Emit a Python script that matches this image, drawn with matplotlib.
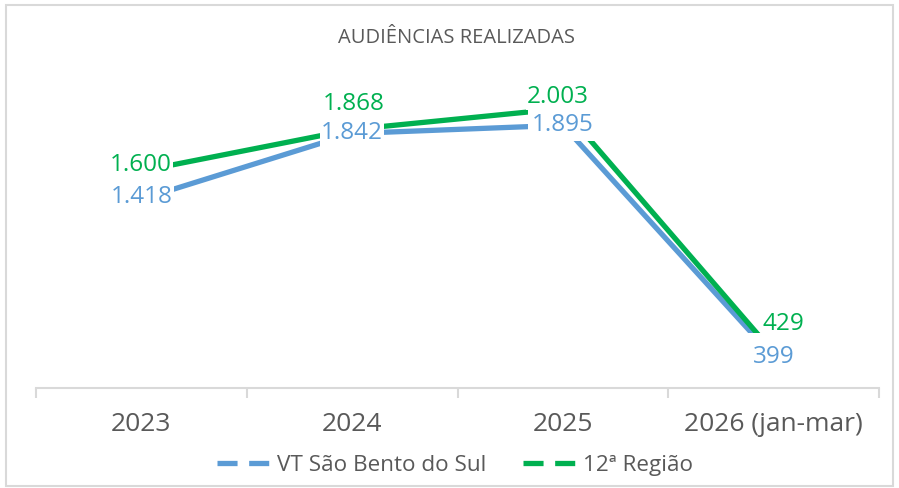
import matplotlib.pyplot as plt
from matplotlib.lines import Line2D
from matplotlib.patches import Rectangle

categories = ["2023", "2024", "2025", "2026 (jan-mar)"]
vt_values = [1418, 1842, 1895, 399]
regiao_values = [1600, 1868, 2003, 429]
vt_labels = ["1.418", "1.842", "1.895", "399"]
regiao_labels = ["1.600", "1.868", "2.003", "429"]

blue = "#5B9BD5"
green = "#00B050"
gray_txt = "#595959"
gray_line = "#D9D9D9"

plt.rcParams["font.family"] = ["Open Sans", "DejaVu Sans"]

fig = plt.figure(figsize=(8.99, 4.88), dpi=100)
ax = fig.add_axes([36 / 899, 100 / 488, 843 / 899, 325.5 / 488])

x = list(range(len(categories)))
ax.plot(x, vt_values, color=blue, lw=3.8, solid_capstyle="butt", zorder=2)
ax.plot(x, regiao_values, color=green, lw=3.8, solid_capstyle="butt", zorder=2)

ax.set_xlim(-0.5, 3.5)
ax.set_ylim(200, 2300)

# data labels, white box hides the line underneath like excel does
px = 0.72
vt_off = [(0, 2), (0, 0), (0, 0), (0, 0)]
reg_off = [(-1, 6), (2, 25), (-5, 12), (10, 29)]
vt_pad = [0.05, 0.05, 0.15, 0.5]
for i in x:
    ax.annotate(vt_labels[i], (i, vt_values[i]),
                xytext=(vt_off[i][0] * px, vt_off[i][1] * px), textcoords="offset points",
                ha="center", va="center", fontsize=17.5, color=blue, zorder=5,
                bbox=dict(boxstyle="square,pad=%s" % vt_pad[i], fc="white", ec="none"))
    ax.annotate(regiao_labels[i], (i, regiao_values[i]),
                xytext=(reg_off[i][0] * px, reg_off[i][1] * px), textcoords="offset points",
                ha="center", va="center", fontsize=17.5, color=green, zorder=5,
                bbox=dict(boxstyle="square,pad=0.05", fc="white", ec="none"))

for s in ["top", "right", "left"]:
    ax.spines[s].set_visible(False)
ax.spines["bottom"].set_color(gray_line)
ax.spines["bottom"].set_linewidth(1.5)
ax.set_yticks([])
ax.set_xticks(x)
ax.set_xticklabels(categories, fontsize=19, color=gray_txt)
ax.tick_params(axis="x", which="major", length=0, pad=17)
ax.set_xticks([-0.5, 0.5, 1.5, 2.5, 3.5], minor=True)
ax.tick_params(axis="x", which="minor", length=7, width=1.5, color=gray_line)

fig.text(457 / 899, 1 - 38 / 488, "AUDIÊNCIAS REALIZADAS", ha="center", va="center",
         fontsize=14.5, color=gray_txt)

handles = [
    Line2D([], [], color=blue, lw=3.8, dashes=(3.8, 2.2), dash_capstyle="butt"),
    Line2D([], [], color=green, lw=3.8, dashes=(3.8, 2.2), dash_capstyle="butt"),
]
leg = fig.legend(handles, ["VT São Bento do Sul", "12ª Região"], loc="center",
                 bbox_to_anchor=(455 / 899, 1 - 465 / 488), ncol=2, frameon=False,
                 fontsize=16.2, handlelength=2.5, handletextpad=0.2, columnspacing=1.6)
for t in leg.get_texts():
    t.set_color(gray_txt)

fig.patches.append(Rectangle((6 / 899, 2 / 488), 887 / 899, 481 / 488, transform=fig.transFigure,
                             fill=False, ec=gray_line, lw=1.5))

fig.savefig("out.png", dpi=100)
